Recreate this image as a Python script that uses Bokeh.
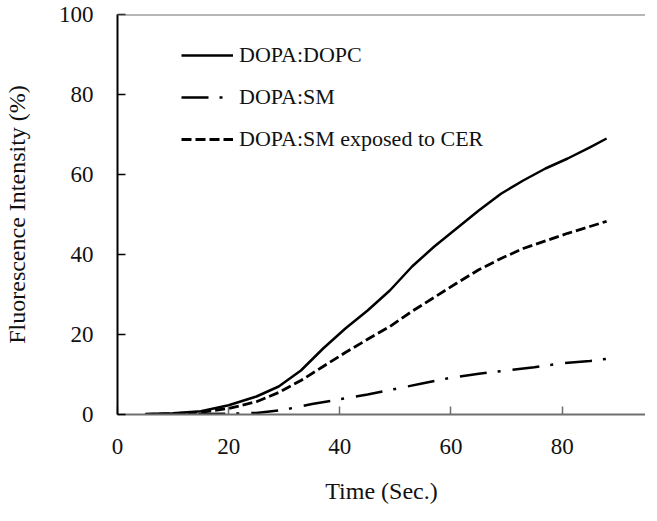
from bokeh.plotting import figure
from bokeh.models import Legend, LegendItem, Span, FixedTicker, Range1d
from bokeh.embed import file_html
from bokeh.resources import INLINE

# Time (s) and fluorescence intensity (%)
time_dopc = [5, 10, 15, 20, 25, 29, 33, 37, 41, 45, 49, 53, 57, 61, 65, 69, 73, 77, 81, 85, 88]
dopa_dopc = [0.1, 0.3, 0.8, 2.3, 4.5, 7.0, 11.0, 16.5, 21.5, 26.0, 31.0, 37.0, 42.0, 46.5, 51.0, 55.2, 58.5, 61.5, 64.0, 66.8, 69.0]

time_sm = [5, 10, 15, 20, 25, 30, 35, 40, 45, 50, 55, 60, 65, 70, 75, 80, 85, 88]
dopa_sm = [0.0, 0.05, 0.1, 0.2, 0.4, 1.2, 2.6, 3.8, 5.0, 6.4, 7.8, 9.2, 10.2, 11.0, 11.8, 12.8, 13.4, 13.9]

time_cer = [5, 10, 15, 20, 25, 29, 33, 37, 41, 45, 49, 53, 57, 61, 65, 69, 73, 77, 81, 85, 88]
dopa_sm_cer = [0.0, 0.2, 0.6, 1.5, 3.2, 5.5, 8.5, 12.0, 15.5, 18.8, 22.0, 25.8, 29.3, 32.8, 36.2, 39.0, 41.5, 43.4, 45.3, 47.0, 48.3]

x_ticks = [0, 20, 40, 60, 80]
y_ticks = [0, 20, 40, 60, 80, 100]
series_names = ["DOPA:DOPC", "DOPA:SM", "DOPA:SM exposed to CER"]

FONT = "Liberation Serif"

p = figure(width=645, height=513, output_backend="svg", toolbar_location=None,
           x_range=Range1d(0, 95), y_range=Range1d(0, 100),
           min_border_left=116, min_border_right=0, min_border_top=14, min_border_bottom=99)
p.outline_line_color = None
p.xgrid.grid_line_color = None
p.ygrid.grid_line_color = None
p.background_fill_color = "white"
p.border_fill_color = "white"

r1 = p.line(time_dopc, dopa_dopc, line_color="black", line_width=2.5, line_join="round")
r2 = p.line(time_sm, dopa_sm, line_color="black", line_width=2.5, line_dash="27 11 3 12", line_join="round")
r3 = p.line(time_cer, dopa_sm_cer, line_color="black", line_width=2.8, line_dash="10 4", line_join="round")

# top border line
p.add_layout(Span(location=100, dimension="width", line_color="#6e6e6e", line_width=2))

for ax in (p.xaxis[0], p.yaxis[0]):
    ax.major_tick_in = 8
    ax.major_tick_out = 0
    ax.minor_tick_in = 0
    ax.minor_tick_out = 0
    ax.major_label_text_font = FONT
    ax.major_label_text_font_size = "23px"
    ax.major_label_text_color = "#111111"
    ax.axis_label_text_font = FONT
    ax.axis_label_text_font_size = "24px"
    ax.axis_label_text_font_style = "normal"
    ax.axis_label_text_color = "#111111"
    ax.major_label_standoff = 24

p.xaxis.ticker = FixedTicker(ticks=x_ticks)
p.yaxis.ticker = FixedTicker(ticks=y_ticks)
p.xaxis.axis_label = "Time (Sec.)"
p.yaxis.axis_label = "Fluorescence Intensity (%)"
p.xaxis.axis_label_standoff = 21
p.yaxis.axis_label_standoff = 26
p.xaxis.axis_line_color = "#6e6e6e"
p.xaxis.axis_line_width = 2
p.xaxis.major_tick_line_color = "#6e6e6e"
p.xaxis.major_tick_line_width = 1.5
p.yaxis.axis_line_color = "black"
p.yaxis.axis_line_width = 2
p.yaxis.major_tick_line_color = "black"
p.yaxis.major_tick_line_width = 1.5

legend = Legend(items=[LegendItem(label=series_names[0], renderers=[r1]),
                       LegendItem(label=series_names[1], renderers=[r2]),
                       LegendItem(label=series_names[2], renderers=[r3])],
                location=(64, 260))
legend.border_line_color = None
legend.background_fill_alpha = 0
legend.padding = 0
legend.margin = 0
legend.spacing = 12
legend.glyph_width = 52
legend.glyph_height = 30
legend.label_height = 30
legend.label_standoff = 6
legend.label_text_font = FONT
legend.label_text_font_size = "22px"
legend.label_text_color = "#111111"
legend.label_text_baseline = "middle"
p.add_layout(legend)

open("out.html", "w").write(file_html(p, INLINE))
